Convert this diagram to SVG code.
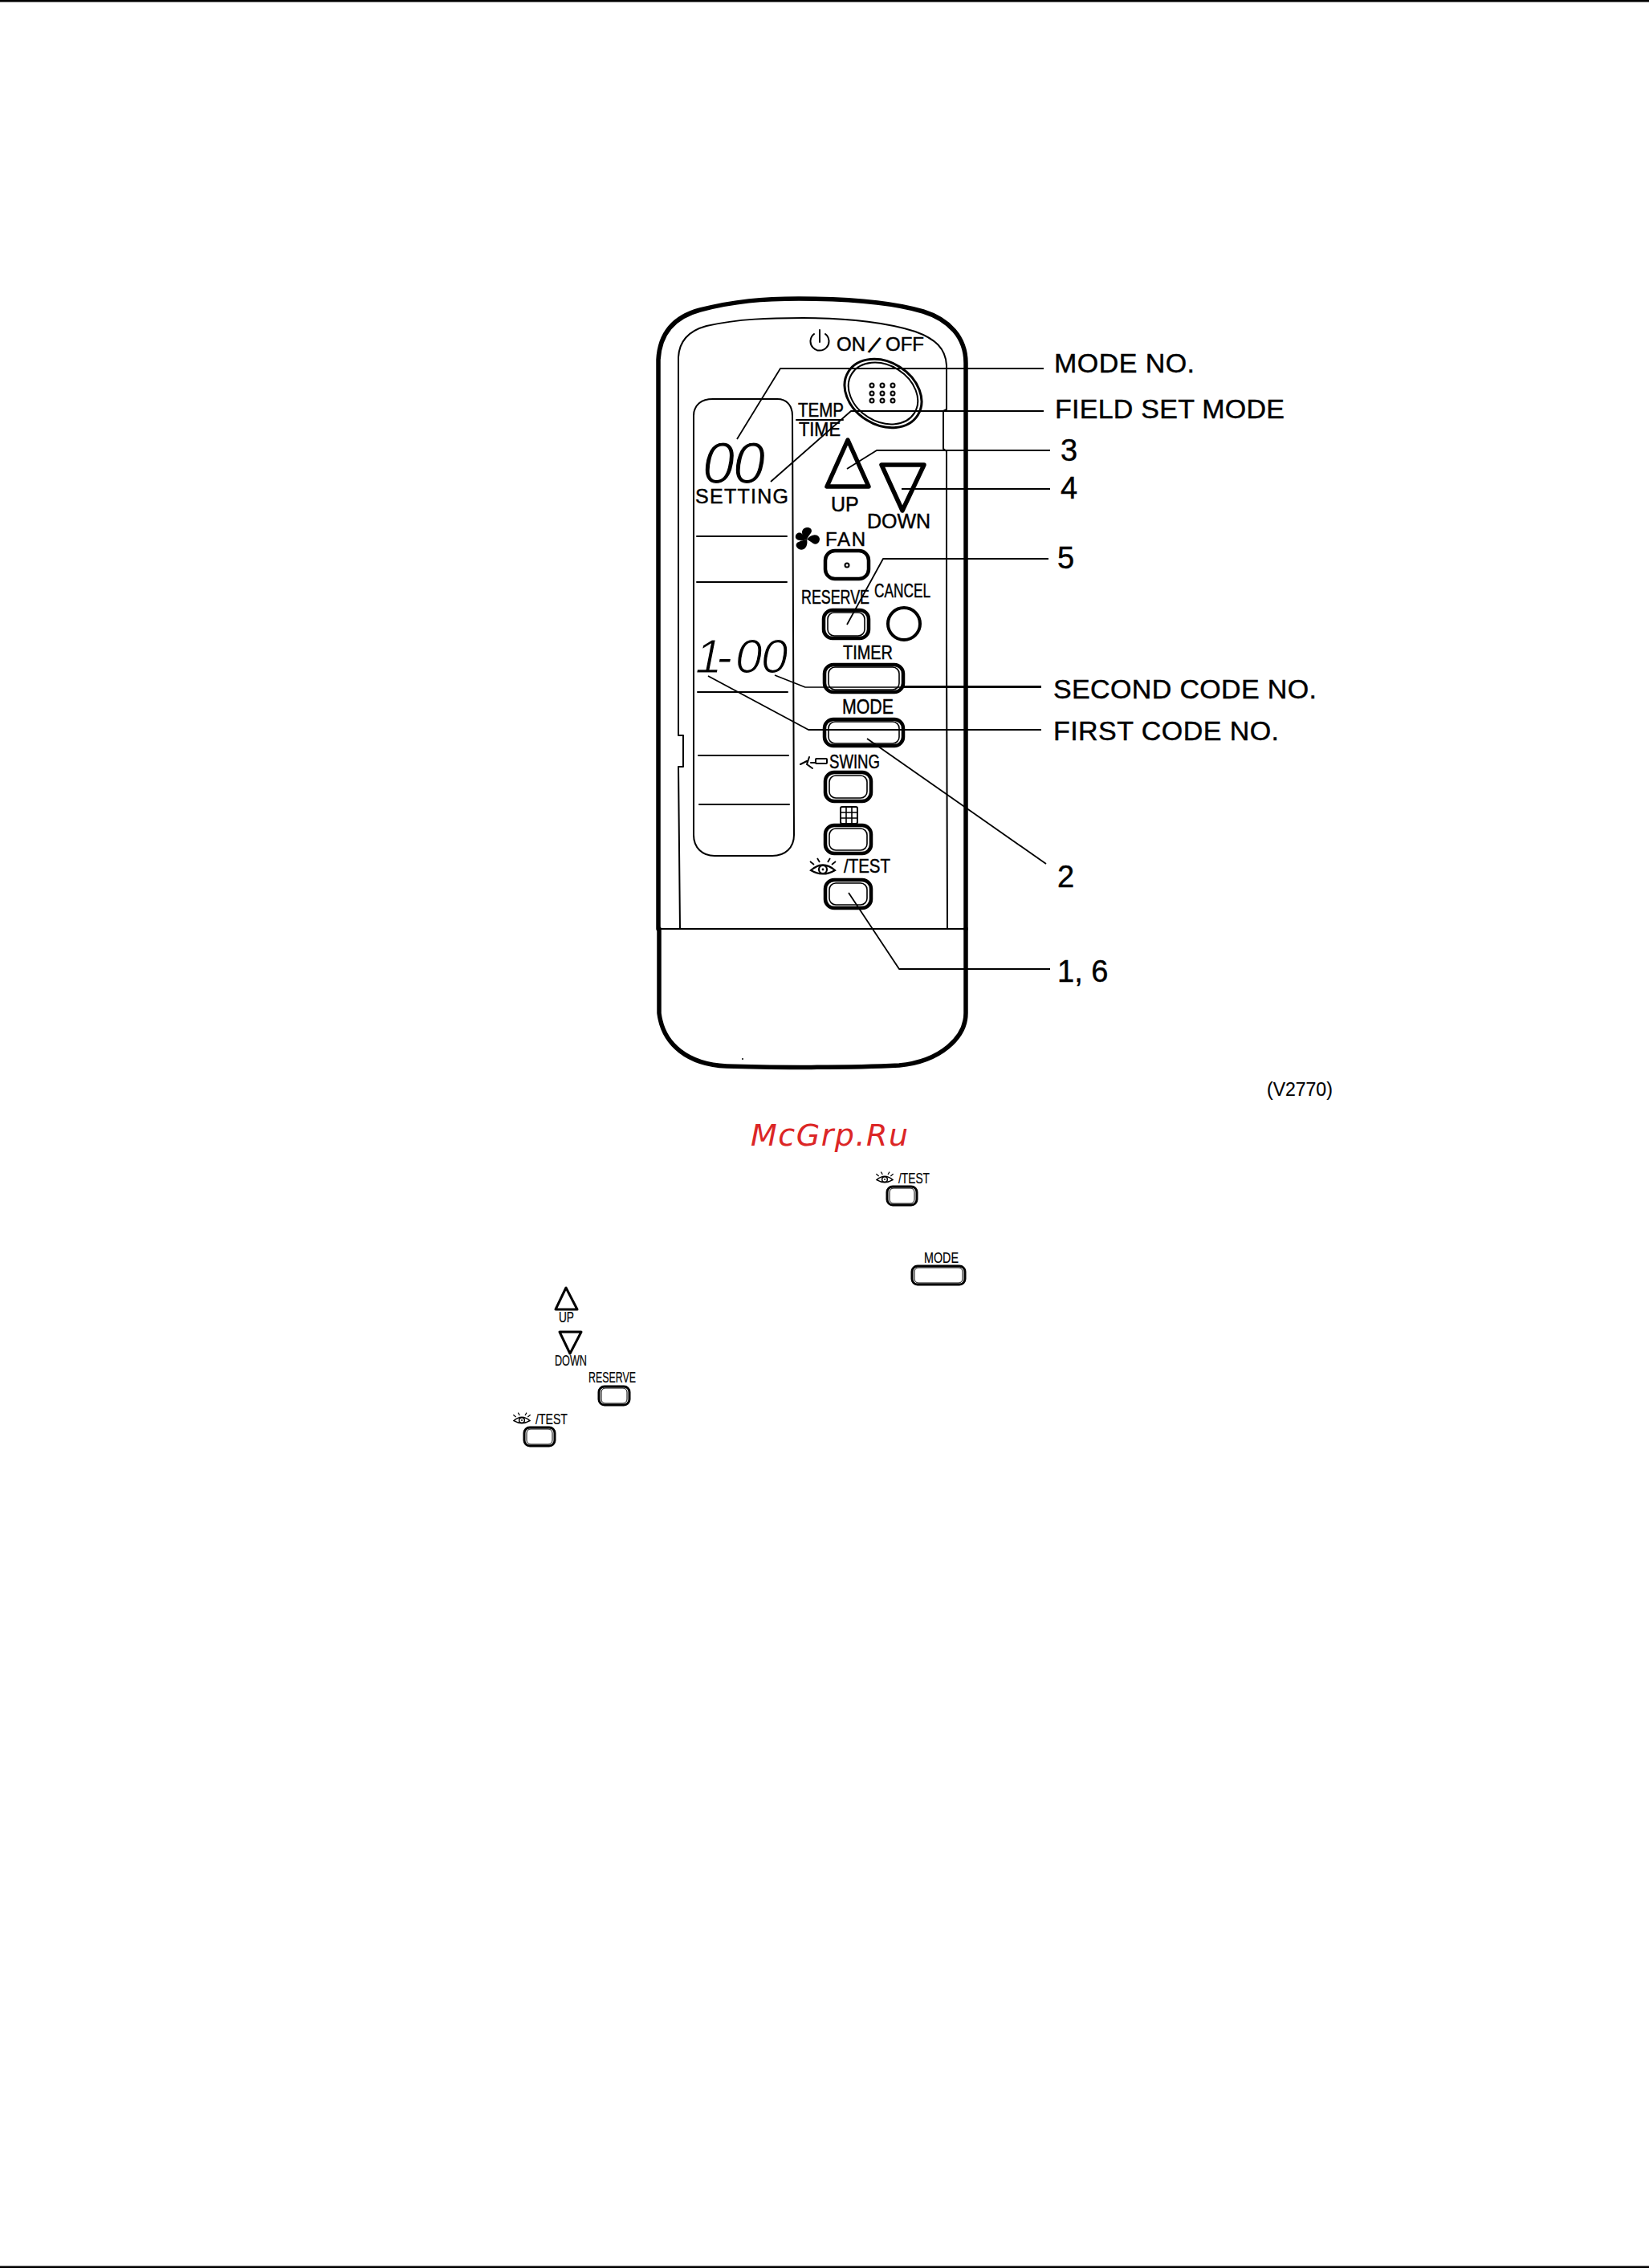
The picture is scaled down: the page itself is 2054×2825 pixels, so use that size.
<svg xmlns="http://www.w3.org/2000/svg" width="2054" height="2825" viewBox="0 0 2054 2825">
<style>
text{font-family:"Liberation Sans",Arial,sans-serif;fill:#000;stroke:#000;stroke-width:.45}
.o{fill:none;stroke:#000;stroke-linejoin:round;stroke-linecap:round}
.t1{stroke-width:1.6}.t2{stroke-width:2}.t3{stroke-width:3}.t4{stroke-width:4}.t6{stroke-width:5.5}
.btn{fill:#fff;stroke:#000;stroke-width:4.5}
.in{fill:none;stroke:#000;stroke-width:1.6}
.sbtn{fill:#fff;stroke:#000;stroke-width:3}
.sin{fill:none;stroke:#000;stroke-width:1}
.lab{font-size:34px}.num{font-size:38px}
.k{font-size:24px}.s{font-size:18px;stroke-width:.2}
.d{font-style:italic;stroke:#fff;stroke-width:1.2}
.lead{fill:none;stroke:#000;stroke-width:1.8;stroke-linejoin:round}
</style>
<defs>
<symbol id="eye" viewBox="0 0 36 24" overflow="visible">
<path d="M3 16Q18 3 33 16Q18 25 3 16Z" fill="none" stroke="#000" stroke-width="2.2"/>
<circle cx="18" cy="15" r="5" fill="none" stroke="#000" stroke-width="2.2"/>
<circle cx="18" cy="15" r="1.400" fill="#000"/>
<path d="M2 5L7 9M11 1L14 6M27 1L24 6M34 5L29 9" fill="none" stroke="#000" stroke-width="1.8"/>
</symbol>
</defs>

<g id="page-rules">
<rect x="0" y="0" width="2054" height="2.500" fill="#000"/>
<rect x="0" y="2822.500" width="2054" height="2.500" fill="#000"/>
</g>

<g id="remote-body">
<path class="o t6" d="M820 1157V448C822 412 842 394 872 386C915 375 950 372 995 372C1060 372 1110 376 1150 388C1182 398 1203 420 1203 452V1157"/>
<path class="o t6" d="M821 1157V1262C826 1302 858 1326 905 1328C960 1330 1060 1330 1120 1327C1172 1322 1203 1292 1203 1262V1157"/>
<path class="o t2" d="M821 1157H1203"/>
<path class="o t2" d="M845 445C846 425 858 412 880 406C920 397 960 396 1000 396C1060 396 1110 403 1140 413C1165 422 1178 434 1179 455V510L1175 512V559L1179 562V800L1180 1157"/>
<path class="o t2" d="M847 1157L845 955H851V916H845V445"/>
</g>

<g id="display">
<path class="o t2" d="M864 518C864 504 874 497 888 497H968C980 497 987 505 987 518L989 1040C989 1056 978 1066 962 1066H890C875 1066 864 1056 864 1040Z"/>
<text class="d" x="875 913" y="602" font-size="72">00</text>
<text x="866" y="627" font-size="25" textLength="116">SETTING</text>
<path class="o t2" d="M868 668H980M868 725H980M869 862H981M870 941H982M871 1002H983"/>
<text class="d" x="866 892 916 948" y="838" font-size="60">1-00</text>
</g>

<g id="power-label">
<path class="o t2" d="M1014 416A11.500 11.500 0 1 0 1028 416M1021 411V426"/>
<text x="1042" y="437" font-size="24" xml:space="preserve">ON<tspan x="1081" y="438" font-size="30" rotate="24">/</tspan><tspan x="1103" y="437">OFF</tspan></text>
</g>

<g id="on-off-button">
<ellipse class="o t3" cx="1100" cy="490" rx="51" ry="39" transform="rotate(32 1100 490)"/>
<ellipse class="o t2" cx="1100" cy="490" rx="46" ry="35" transform="rotate(32 1100 490)"/>
<g class="o t2">
<circle cx="1086" cy="480" r="2.500"/><circle cx="1099" cy="480" r="2.500"/><circle cx="1112" cy="480" r="2.500"/>
<circle cx="1086" cy="490" r="2.500"/><circle cx="1099" cy="490" r="2.500"/><circle cx="1112" cy="490" r="2.500"/>
<circle cx="1086" cy="499" r="2.500"/><circle cx="1099" cy="499" r="2.500"/><circle cx="1112" cy="499" r="2.500"/>
</g>
</g>

<g id="temp-time">
<text x="994" y="519" font-size="23" textLength="57" lengthAdjust="spacingAndGlyphs">TEMP</text>
<path class="o t2" d="M992 523H1050"/>
<text x="995" y="543" font-size="23" textLength="52" lengthAdjust="spacingAndGlyphs">TIME</text>
</g>

<g id="up-button">
<path class="o t6" d="M1056 548L1030 606H1082Z"/>
<text x="1035" y="637" font-size="25">UP</text>
</g>
<g id="down-button">
<path class="o t6" d="M1098 579H1151L1124 636Z"/>
<text x="1080" y="658" font-size="25">DOWN</text>
</g>

<g id="fan-button">
<path fill="#000" d="M1005 672C996 666 998 658 1005 657C1011 657 1012 661 1010 664C1008 667 1006 669 1005 672ZM1005 672C1010 665 1019 664 1021 671C1021 677 1016 679 1013 677C1010 675 1008 673 1005 672ZM1005 672C1007 680 1002 687 995 684C990 681 991 676 995 675C998 673 1002 673 1005 672Z"/>
<path fill="#000" d="M1005 672C999 674 993 674 991 670C990 664 996 662 999 665C1002 667 1004 670 1005 672Z"/>
<text x="1028" y="680" font-size="24" textLength="50">FAN</text>
<rect class="btn" x="1028" y="686" width="54" height="35" rx="12"/>
<circle class="o t2" cx="1055" cy="704" r="2.500"/>
</g>

<g id="reserve-button">
<text x="998" y="752" font-size="24" textLength="85" lengthAdjust="spacingAndGlyphs">RESERVE</text>
<rect class="btn" x="1026" y="760" width="56" height="35" rx="11"/>
<rect class="in" x="1031" y="763" width="46" height="29" rx="8"/>
</g>

<g id="cancel-button">
<text x="1089" y="744" font-size="24" textLength="70" lengthAdjust="spacingAndGlyphs">CANCEL</text>
<circle class="o t4" cx="1126" cy="777" r="20"/>
</g>

<g id="timer-button">
<text x="1050" y="821" font-size="24" textLength="62" lengthAdjust="spacingAndGlyphs">TIMER</text>
<rect class="btn" x="1027" y="828" width="98" height="34" rx="11"/>
<rect class="in" x="1032" y="831" width="88" height="28" rx="8"/>
</g>

<g id="mode-button">
<text x="1049" y="889" font-size="26" textLength="64" lengthAdjust="spacingAndGlyphs">MODE</text>
<rect class="btn" x="1027" y="896" width="98" height="33" rx="11"/>
<rect class="in" x="1032" y="899" width="88" height="27" rx="8"/>
</g>

<g id="swing-button">
<path class="o t2" d="M997 952L1005 948M1008 943L1005 952L1012 957M1010 950H1016"/>
<rect class="o t2" x="1016" y="945" width="14" height="6" rx="1"/>
<text x="1033" y="957" font-size="24" textLength="63" lengthAdjust="spacingAndGlyphs">SWING</text>
<rect class="btn" x="1028" y="962" width="57" height="36" rx="11"/>
<rect class="in" x="1033" y="966" width="47" height="28" rx="8"/>
</g>

<g id="grid-button">
<rect class="o t2" x="1047" y="1005" width="21" height="21" rx="2"/>
<path class="o t1" d="M1054 1005V1026M1061 1005V1026M1047 1012H1068M1047 1019H1068"/>
<rect class="btn" x="1028" y="1028" width="57" height="35" rx="11"/>
<rect class="in" x="1033" y="1032" width="47" height="27" rx="8"/>
</g>

<g id="test-button">
<use href="#eye" x="1007" y="1068" width="36" height="24"/>
<text x="1051" y="1087" font-size="24" textLength="58" lengthAdjust="spacingAndGlyphs">/TEST</text>
<rect class="btn" x="1028" y="1096" width="57" height="35" rx="11"/>
<rect class="in" x="1033" y="1100" width="47" height="27" rx="8"/>
</g>

<g id="connectors">
<path class="lead" d="M918 547L972 459H1300"/>
<path class="lead" d="M960 600L1060 512H1300"/>
<path class="lead" d="M1055 584L1092 561H1308"/>
<path class="lead" d="M1123 609H1308"/>
<path class="lead" d="M1055 778L1100 696H1306"/>
<path class="lead" style="stroke-width:1.600" d="M965 841L1003 856H1297"/>
<path class="lead" style="stroke-width:3.200" d="M1125 855.500H1297"/>
<path class="lead" d="M882 842L1007 909H1297"/>
<path class="lead" d="M1080 920L1303 1076"/>
<path class="lead" d="M1057 1112L1120 1207H1308"/>
</g>

<g id="callouts">
<text class="lab" x="1313" y="464" textLength="175">MODE NO.</text>
<text class="lab" x="1314" y="521" textLength="286">FIELD SET MODE</text>
<text class="num" x="1321" y="574">3</text>
<text class="num" x="1321" y="621">4</text>
<text class="num" x="1317" y="708">5</text>
<text class="lab" x="1312" y="870" textLength="328">SECOND CODE NO.</text>
<text class="lab" x="1312" y="922" textLength="281">FIRST CODE NO.</text>
<text class="num" x="1317" y="1105">2</text>
<text class="num" x="1317" y="1223">1, 6</text>
<text x="1578" y="1365" font-size="23" style="stroke-width:.2">(V2770)</text>
</g>

<g id="watermark">
<text x="935" y="1427" font-size="38" font-style="italic" textLength="196" style="font-family:'DejaVu Sans',sans-serif;fill:#dc2626;stroke:none">McGrp.Ru</text>
</g>

<g id="inline-test-1">
<use href="#eye" x="1090" y="1459" width="24" height="16"/>
<text class="s" x="1119" y="1474" textLength="39" lengthAdjust="spacingAndGlyphs">/TEST</text>
<rect class="sbtn" x="1105" y="1478" width="37" height="23" rx="7"/>
<rect class="sin" x="1108" y="1480" width="31" height="19" rx="5"/>
</g>
<g id="inline-mode">
<text class="s" x="1151" y="1573" textLength="43" lengthAdjust="spacingAndGlyphs">MODE</text>
<rect class="sbtn" x="1136" y="1577" width="66" height="23" rx="7"/>
<rect class="sin" x="1139" y="1579" width="60" height="19" rx="5"/>
</g>
<g id="inline-up">
<path class="o t3" d="M705 1604L692 1631H719Z"/>
<text class="s" x="696" y="1647" textLength="19" lengthAdjust="spacingAndGlyphs">UP</text>
</g>
<g id="inline-down">
<path class="o t3" d="M697 1659H724L710 1686Z"/>
<text class="s" x="691" y="1701" textLength="40" lengthAdjust="spacingAndGlyphs">DOWN</text>
</g>
<g id="inline-reserve">
<text class="s" x="733" y="1722" textLength="59" lengthAdjust="spacingAndGlyphs">RESERVE</text>
<rect class="sbtn" x="746" y="1727" width="38" height="23" rx="7"/>
<rect class="sin" x="749" y="1729" width="32" height="19" rx="5"/>
</g>
<g id="inline-test-2">
<use href="#eye" x="638" y="1759" width="24" height="16"/>
<text class="s" x="667" y="1774" textLength="40" lengthAdjust="spacingAndGlyphs">/TEST</text>
<rect class="sbtn" x="653" y="1778" width="38" height="23" rx="7"/>
<rect class="sin" x="656" y="1780" width="32" height="19" rx="5"/>
</g>
<circle cx="925" cy="1319" r="1" fill="#000"/>
</svg>
